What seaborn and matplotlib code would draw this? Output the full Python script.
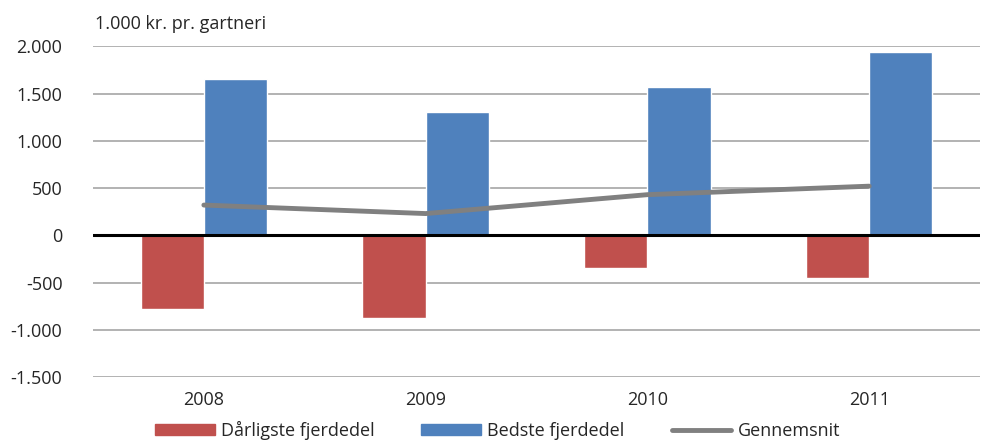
import matplotlib
matplotlib.use("Agg")
import matplotlib.pyplot as plt
import seaborn as sns
import pandas as pd
from matplotlib.patches import Patch
from matplotlib.lines import Line2D

years = ["2008", "2009", "2010", "2011"]
worst = [-780, -870, -350, -450]
best = [1650, 1310, 1570, 1940]
average = [320, 230, 430, 520]
series_names = ["Dårligste fjerdedel", "Bedste fjerdedel", "Gennemsnit"]
yticks = [-1500, -1000, -500, 0, 500, 1000, 1500, 2000]
ytick_labels = ["-1.500", "-1.000", "-500", "0", "500", "1.000", "1.500", "2.000"]

sns.set_theme(style="white")
plt.rcParams["font.family"] = ["Open Sans", "DejaVu Sans"]

red = "#C0504D"
blue = "#4F81BD"
gray = "#808080"

df = pd.DataFrame({
    "year": years * 2,
    "value": worst + best,
    "series": [series_names[0]] * 4 + [series_names[1]] * 4,
})
df_line = pd.DataFrame({"year": years, "value": average})

fig = plt.figure(figsize=(9.89, 4.41), dpi=100)
ax = fig.add_axes([0.094, 0.145, 0.897, 0.75])

sns.barplot(data=df, x="year", y="value", hue="series", order=years,
            hue_order=series_names[:2], palette=[red, blue], width=0.57,
            saturation=1, legend=False, ax=ax)
sns.pointplot(data=df_line, x="year", y="value", order=years, color=gray,
              markers="", linestyles="-", ax=ax)
for l in ax.lines:
    l.set_linewidth(3.5)
    l.set_solid_capstyle("round")

ax.set_ylim(-1500, 2000)
ax.set_xlim(-0.5, 3.5)
ax.set_yticks(yticks)
ax.set_yticklabels(ytick_labels, fontsize=13)
ax.tick_params(axis="x", labelsize=13, length=0, pad=10)
ax.tick_params(axis="y", length=0, pad=22)
ax.grid(axis="y", color="#A6A6A6", linewidth=1.2)
ax.set_axisbelow(True)
ax.axhline(0, color="black", linewidth=2.2, zorder=5)
for s in ax.spines.values():
    s.set_visible(False)
ax.set_xlabel("")
ax.set_ylabel("")

fig.text(0.096, 0.945, "1.000 kr. pr. gartneri", fontsize=13, ha="left", va="center")

handles = [Patch(color=red), Patch(color=blue),
           Line2D([0], [0], color=gray, linewidth=3.5, solid_capstyle="round")]
fig.legend(handles, series_names, loc="lower center", bbox_to_anchor=(0.503, -0.035),
           ncol=3, frameon=False, fontsize=13, handlelength=3.3, handleheight=0.55,
           handletextpad=0.35, columnspacing=2.6)

fig.savefig("out.png", dpi=100)
